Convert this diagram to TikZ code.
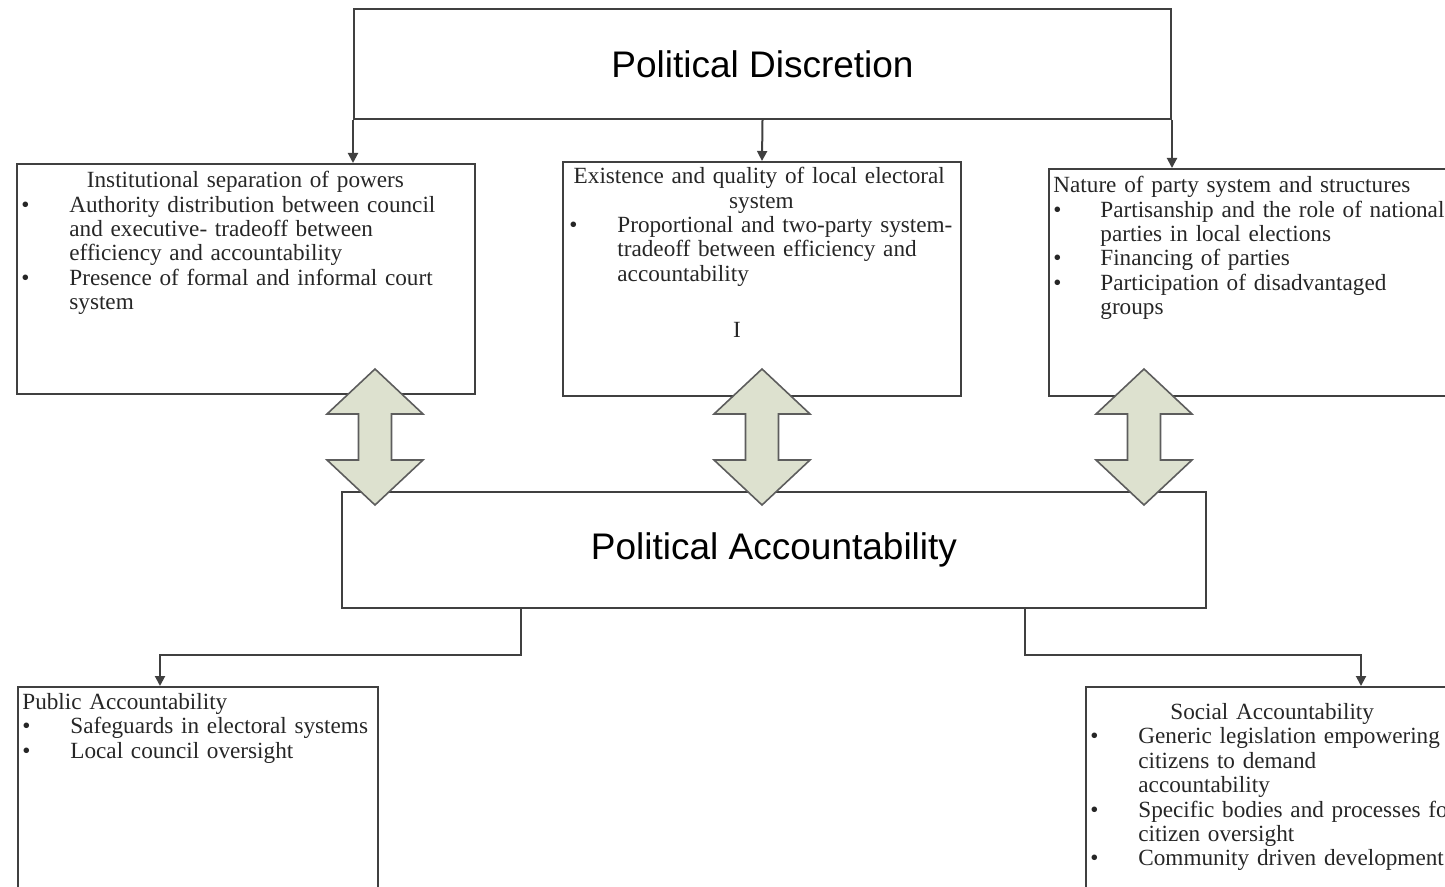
\documentclass[tikz,border=0pt]{standalone}
\usepackage{fontspec}
\setmainfont{Liberation Serif}
\newfontfamily\headfont{Liberation Sans}
\usetikzlibrary{arrows.meta,calc}

\definecolor{edgegray}{RGB}{64,64,64}
\definecolor{arrowfill}{RGB}{221,225,207}
\newcommand{\bul}[2][24pt]{\par\noindent\hangindent=#1\hangafter=1\makebox[#1][l]{\textbullet}#2\par}

\tikzset{
  box/.style={draw=edgegray, line width=1pt, rectangle, inner sep=0pt, anchor=north west},
  txt/.style={anchor=north west, inner sep=0pt, text=black!85,
    font=\fontsize{11.6}{12.2}\selectfont,
    execute at begin node={\raggedright\hyphenpenalty=10000\exhyphenpenalty=10000}},
  head/.style={font=\headfont\fontsize{18.5}{22}\selectfont},
  arr/.style={draw=edgegray, line width=1pt, -{Triangle[length=5pt,width=5pt]}},
  dblarrow/.pic={
    \draw[draw=edgegray!85, line width=0.8pt, fill=arrowfill, line join=miter]
      (0,-68) -- (48,-23) -- (16.5,-23) -- (16.5,23) -- (48,23) -- (0,68)
      -- (-48,23) -- (-16.5,23) -- (-16.5,-23) -- (-48,-23) -- cycle;
  }
}

\begin{document}
\begin{tikzpicture}[x=0.5pt, y=-0.5pt]
\useasboundingbox (0,0) rectangle (1445,887);
\clip (0,0) rectangle (1445,887);

\node[box, head, minimum width=408.5pt, minimum height=55pt] (disc) at (353,8) {Political Discretion};

\node[box, minimum width=229pt, minimum height=115pt] (inst) at (16,163) {};
\node[txt, text width=224pt] (insttxt) at ($(inst.north west)+(5,8)$) {%
  {\centering Institutional separation of powers\par}
  \bul{Authority distribution between council\newline and executive- tradeoff between\newline efficiency and accountability}
  \bul{Presence of formal and informal court\newline system}};

\node[box, minimum width=199pt, minimum height=117pt] (elec) at (562,161) {};
\node[txt, text width=192pt] (electxt) at ($(elec.north west)+(7,6)$) {%
  {\centering Existence and quality of local electoral\newline system\par}
  \bul{\mbox{Proportional and two-party system-}\newline \mbox{tradeoff between efficiency and}\newline accountability}};
\node[txt, anchor=center] (stray) at (737,330) {I};

\node[box, minimum width=215pt, minimum height=113.5pt] (party) at (1048,168) {};
\node[txt, text width=260pt] (partytxt) at ($(party.north west)+(5,8)$) {%
  Nature of party system and structures\par
  \bul[23.5pt]{Partisanship and the role of national\newline parties in local elections}
  \bul[23.5pt]{Financing of parties}
  \bul[23.5pt]{Participation of disadvantaged\newline groups}};

\node[box, head, minimum width=432pt, minimum height=58pt] (acc) at (341,491) {Political Accountability};

\node[box, minimum width=180pt, minimum height=110pt] (pub) at (17,686) {};
\node[txt, text width=200pt] (pubtxt) at ($(pub.north west)+(5,7)$) {%
  Public Accountability\par
  \bul{Safeguards in electoral systems}
  \bul{Local council oversight}};

\node[box, minimum width=200pt, minimum height=110pt] (soc) at (1085,686) {};
\node[txt, text width=260pt] (soctxt) at ($(soc.north west)+(5,17)$) {%
  \hspace*{40pt}Social Accountability\par
  \bul{Generic legislation empowering\newline citizens to demand\newline accountability}
  \bul{Specific bodies and processes for\newline citizen oversight}
  \bul{Community driven development}};

\draw[arr] (disc.south west) -- (disc.south west |- inst.north);
\draw[arr] (disc.south) -- (elec.north);
\draw[arr] (disc.south east) -- (disc.south east |- party.north);
\draw[arr] ($(acc.south west)+(180,0)$) -- ++(0,46) -| ($(pub.north west)+(143,0)$);
\draw[arr] ($(acc.south west)+(684,0)$) -- ++(0,46) -| ($(soc.north west)+(276,0)$);

\pic at (375,437) {dblarrow};
\pic at (762,437) {dblarrow};
\pic at (1144,437) {dblarrow};
\end{tikzpicture}
\end{document}
